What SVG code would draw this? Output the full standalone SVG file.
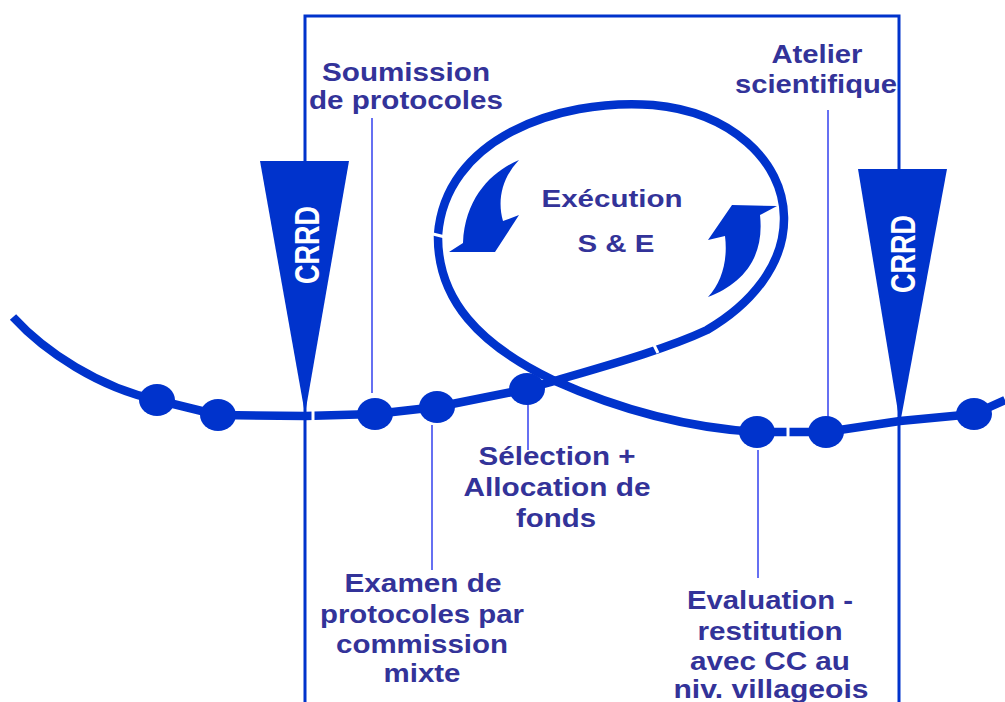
<svg xmlns="http://www.w3.org/2000/svg" width="1005" height="702" viewBox="0 0 1005 702">
  <style>
    .lbl { font-family: "Liberation Sans", Arial, sans-serif; font-weight: bold; font-size: 25px; fill: #333399; text-anchor: middle; }
    .mid { font-size: 23px; }
    .crrd { font-family: "Liberation Sans", Arial, sans-serif; font-weight: bold; font-size: 27px; fill: #ffffff; text-anchor: middle; dominant-baseline: central; }
    .frame { fill: none; stroke: #0033cc; stroke-width: 3; }
    .track { fill: none; stroke: #0033cc; stroke-width: 8.5; stroke-linejoin: round; }
    .leader { fill: none; stroke: #3340ee; stroke-width: 1.5; }
    .dot { fill: #0033cc; }
    .cut { stroke: #ffffff; stroke-width: 3; }
    .solid { fill: #0033cc; }
  </style>

  <rect width="1005" height="702" fill="#ffffff"/>

  <!-- period frame -->
  <path class="frame" d="M305,702 L305,16 L899,16 L899,702"/>

  <g id="connectors">
    <!-- leader lines from labels to milestones -->
    <line class="leader" x1="372" y1="118" x2="372" y2="393"/>
    <line class="leader" x1="432" y1="425" x2="432" y2="570"/>
    <line class="leader" x1="528" y1="404" x2="528" y2="450"/>
    <line class="leader" x1="758" y1="450" x2="758" y2="578"/>
    <line class="leader" x1="828" y1="110" x2="828" y2="418"/>

    <!-- main time track -->
    <path class="track" d="M13,317 C45,352 100,388 157,400 L218,415 L305,416 L375,414 L437,407 L527,389"/>
    <path class="track" d="M757,432 L826,432 L900,421 L974,414 L1005,400"/>

    <!-- execution loop -->
    <path class="track" d="M527,389 C590,370 660,352 707,330 C750,305 785,265 784,217 C783,160 730,112 653,105 C555,98 445,140 438,235 C437,300 480,345 553,380 C620,410 690,428 757,432"/>

    <!-- small breaks in the line -->
    <line class="cut" x1="313" y1="409" x2="313" y2="422"/>
    <line class="cut" x1="433" y1="234" x2="449" y2="238"/>
    <line class="cut" x1="653" y1="343" x2="658" y2="353"/>
    <line class="cut" x1="788" y1="425" x2="788" y2="438"/>
  </g>

  <!-- milestones on the track -->
  <g id="milestones">
    <ellipse class="dot" cx="157" cy="400" rx="18" ry="16"/>
    <ellipse class="dot" cx="218" cy="415" rx="18" ry="16"/>
    <ellipse class="dot" cx="375" cy="414" rx="18" ry="16"/>
    <ellipse class="dot" cx="437" cy="407" rx="18" ry="16"/>
    <ellipse class="dot" cx="527" cy="389" rx="18" ry="16"/>
    <ellipse class="dot" cx="757" cy="432" rx="18" ry="16"/>
    <ellipse class="dot" cx="826" cy="432" rx="18" ry="16"/>
    <ellipse class="dot" cx="974" cy="414" rx="18" ry="16"/>
  </g>

  <g id="crrd-left">
    <polygon class="solid" points="260,161 349,161 305,414"/>
    <text class="crrd" transform="translate(307,245) scale(1.3,1) rotate(-90)">CRRD</text>
  </g>

  <g id="crrd-right">
    <polygon class="solid" points="858,169 947,169 900,424"/>
    <text class="crrd" transform="translate(903,254) scale(1.3,1) rotate(-90)">CRRD</text>
  </g>

  <g id="execution">
    <!-- curved cycle arrows -->
    <path class="solid" d="M519,160 C495,170 465,195 463,243 L449,252 L495,252 L519,215 L503,221 C497,200 502,178 519,160 Z"/>
    <path class="solid" d="M708,297 C740,285 765,260 760,215 L777,206 L732,205 L708,240 L725,236 C728,260 722,282 708,297 Z"/>
    <text class="lbl mid" x="612" y="207" textLength="141" lengthAdjust="spacingAndGlyphs">Exécution</text>
    <text class="lbl mid" x="616" y="252" textLength="77" lengthAdjust="spacingAndGlyphs">S &amp; E</text>
  </g>

  <g id="soumission">
    <text class="lbl" x="406" y="81" textLength="168" lengthAdjust="spacingAndGlyphs">Soumission</text>
    <text class="lbl" x="406" y="109" textLength="194" lengthAdjust="spacingAndGlyphs">de protocoles</text>
  </g>

  <g id="atelier">
    <text class="lbl" x="817" y="63" textLength="91" lengthAdjust="spacingAndGlyphs">Atelier</text>
    <text class="lbl" x="816" y="93" textLength="162" lengthAdjust="spacingAndGlyphs">scientifique</text>
  </g>

  <g id="selection">
    <text class="lbl" x="557" y="465" textLength="157" lengthAdjust="spacingAndGlyphs">Sélection +</text>
    <text class="lbl" x="557" y="496" textLength="187" lengthAdjust="spacingAndGlyphs">Allocation de</text>
    <text class="lbl" x="556" y="527" textLength="80" lengthAdjust="spacingAndGlyphs">fonds</text>
  </g>

  <g id="examen">
    <text class="lbl" x="423" y="592" textLength="157" lengthAdjust="spacingAndGlyphs">Examen de</text>
    <text class="lbl" x="422" y="623" textLength="204" lengthAdjust="spacingAndGlyphs">protocoles par</text>
    <text class="lbl" x="422" y="653" textLength="172" lengthAdjust="spacingAndGlyphs">commission</text>
    <text class="lbl" x="422" y="682" textLength="77" lengthAdjust="spacingAndGlyphs">mixte</text>
  </g>

  <g id="evaluation">
    <text class="lbl" x="770" y="609" textLength="166" lengthAdjust="spacingAndGlyphs">Evaluation -</text>
    <text class="lbl" x="770" y="640" textLength="145" lengthAdjust="spacingAndGlyphs">restitution</text>
    <text class="lbl" x="770" y="670" textLength="160" lengthAdjust="spacingAndGlyphs">avec CC au</text>
    <text class="lbl" x="771" y="698" textLength="195" lengthAdjust="spacingAndGlyphs">niv. villageois</text>
  </g>
</svg>
